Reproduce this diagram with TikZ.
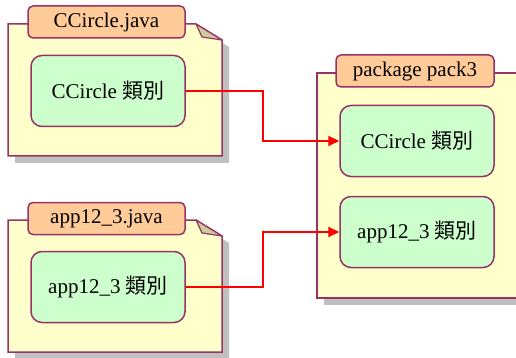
\documentclass[tikz,border=0pt]{standalone}
\usepackage{fontspec}
\setmainfont{Liberation Serif}
\newfontfamily\cjk{Noto Sans CJK TC}
\usetikzlibrary{arrows.meta}
\definecolor{bordc}{RGB}{153,51,102}
\definecolor{yellowf}{RGB}{255,255,204}
\definecolor{greenf}{RGB}{204,255,204}
\definecolor{tabf}{RGB}{255,204,153}
\definecolor{foldf}{RGB}{204,204,160}
\definecolor{shadowc}{RGB}{192,192,192}
\tikzset{
  bodyshape/.style={draw=bordc, fill=yellowf, line width=1.5pt, line join=miter},
  shadowshape/.style={fill=shadowc, draw=none},
  tabbox/.style={draw=bordc, fill=tabf, line width=1.5pt, rounded corners=5pt, inner sep=0pt,
    minimum width=157pt, minimum height=32pt, font=\fontsize{21}{25}\selectfont},
  classbox/.style={draw=bordc, fill=greenf, line width=1.5pt, rounded corners=11pt, inner sep=0pt,
    minimum width=154pt, minimum height=71pt, font=\fontsize{21}{25}\selectfont},
  foldshape/.style={draw=bordc, fill=foldf, line width=1.2pt, line join=round},
  link/.style={draw=red, line width=1.8pt, -{Triangle[length=11pt,width=10pt]}}
}
\begin{document}
\begin{tikzpicture}[x=1pt,y=-1pt]
\clip (0,0) rectangle (516,358);
\fill[white] (0,0) rectangle (516,358);
% ---- file 1
\fill[shadowshape] (15,31) -- (203,31) -- (229,47) -- (229,163) -- (15,163) -- cycle;
\path[bodyshape] (8,24) -- (196,24) -- (222,40) -- (222,156) -- (8,156) -- cycle;
\path[foldshape] (196,24) .. controls (199,30) .. (202,37) -- (222,40) -- cycle;
\node[tabbox] (t1) at (106.5,22) {CCircle.java};
\node[classbox] (c1) at (108,91) {CCircle {\cjk 類別}};
% ---- file 2
\fill[shadowshape] (15,227) -- (203,227) -- (229,243) -- (229,359) -- (15,359) -- cycle;
\path[bodyshape] (8,220) -- (196,220) -- (222,236) -- (222,352) -- (8,352) -- cycle;
\path[foldshape] (196,220) .. controls (199,226) .. (202,233) -- (222,236) -- cycle;
\node[tabbox] (t2) at (106.5,218.5) {app12\_3.java};
\node[classbox] (c2) at (108,287) {app12\_3 {\cjk 類別}};
% ---- package
\fill[shadowshape] (324,80) rectangle (540,305);
\path[bodyshape] (317,73) rectangle (533,298);
\node[tabbox, minimum width=158pt] (t3) at (415,71) {package pack3};
\node[classbox] (r1) at (417,141) {CCircle {\cjk 類別}};
\node[classbox] (r2) at (417,232) {app12\_3 {\cjk 類別}};
% ---- links
\coordinate (m) at (263,0);
\draw[link] (c1.east) -- (c1.east -| m) |- (r1.west);
\draw[link] (c2.east) -- (c2.east -| m) |- (r2.west);
\end{tikzpicture}
\end{document}
